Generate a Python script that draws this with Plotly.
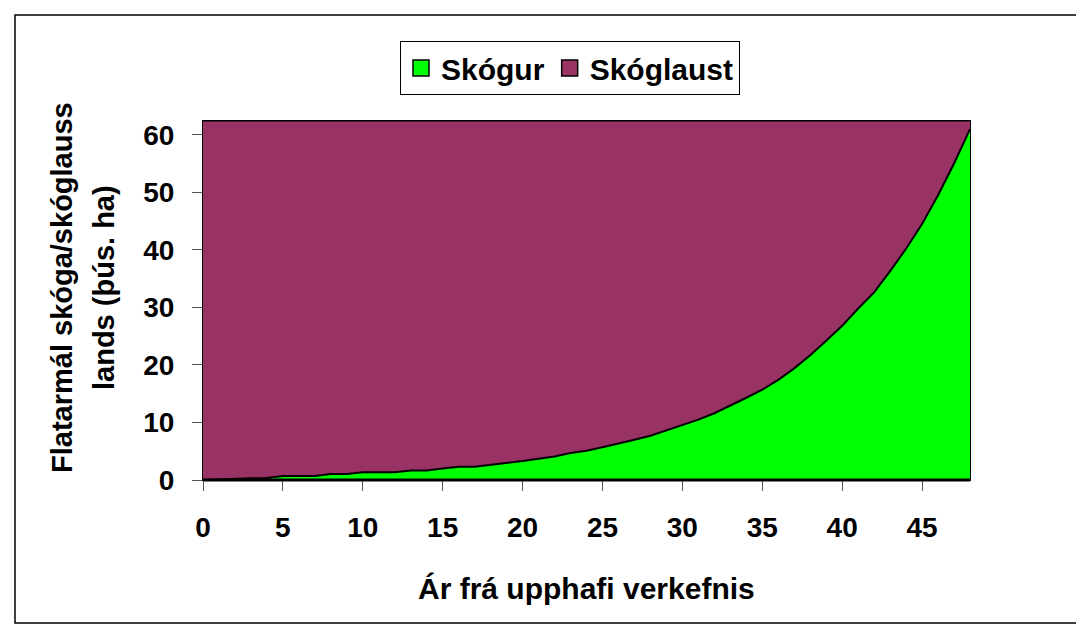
import plotly.graph_objects as go

years = list(range(0, 49))
skogur = [0, 0.1, 0.3, 0.3, 0.35, 0.7, 0.7, 0.7, 1.05, 1.05,
          1.35, 1.35, 1.35, 1.65, 1.65, 2.0, 2.3, 2.3, 2.6, 3.0,
          3.3, 3.7, 4.1, 4.7, 5.1, 5.7, 6.3, 7.0, 7.7, 8.6,
          9.5, 10.5, 11.6, 12.9, 14.3, 15.7, 17.4, 19.4, 21.7, 24.2,
          26.8, 29.8, 32.6, 36.3, 40.2, 44.5, 49.5, 55.0, 61.0]
total_land = 62.4
skoglaust = [round(total_land - v, 2) for v in skogur]

series_names = ["Skógur", "Skóglaust"]
series_colors = ["#00FF00", "#993366"]
x_ticks = [0, 5, 10, 15, 20, 25, 30, 35, 40, 45]
y_ticks = [0, 10, 20, 30, 40, 50, 60]

FONT = "Liberation Sans, Arial, sans-serif"

fig = go.Figure()
fig.add_trace(go.Scatter(
    x=years, y=skogur, name=series_names[0], stackgroup="one",
    mode="lines", line=dict(color="black", width=2),
    fillcolor=series_colors[0], showlegend=False))
fig.add_trace(go.Scatter(
    x=years, y=skoglaust, name=series_names[1], stackgroup="one",
    mode="lines", line=dict(color="black", width=1),
    fillcolor=series_colors[1], showlegend=False))
# legend entries (square swatches as in the original)
for name, col in zip(series_names, series_colors):
    fig.add_trace(go.Scatter(
        x=[None], y=[None], mode="markers", name=name,
        marker=dict(symbol="square", size=17, color=col,
                    line=dict(color="black", width=1.5))))

W, H = 1084, 624
L, R, T, B = 195, 962, 113, 472

def px(x):
    return (x - L) / (R - L)

def py(y):
    return (B - y) / (B - T)

TICKFONT = dict(family=FONT, size=28, weight="bold", color="black")
XTITLEFONT = dict(family=FONT, size=30, weight="bold", color="black")
YTITLEFONT = dict(family=FONT, size=29, weight="bold", color="black")

fig.update_layout(
    width=W, height=H,
    margin=dict(l=L, r=W - R, t=T, b=H - B),
    paper_bgcolor="white", plot_bgcolor="white",
    font=dict(family=FONT, size=22, color="black"),
    showlegend=True,
    legend=dict(
        orientation="h", x=px(562), y=py(33), xanchor="center", yanchor="top",
        bordercolor="black", borderwidth=1, bgcolor="white",
        font=dict(family=FONT, size=30, color="black", weight="bold"),
        itemwidth=30, traceorder="normal"),
    xaxis=dict(
        range=[0, 48], tickvals=x_ticks, ticks="outside", ticklen=10,
        tickcolor="#555555", tickwidth=1, showgrid=False, zeroline=False,
        showline=True, linecolor="black", linewidth=1, mirror=True,
        tickfont=TICKFONT, ticklabelstandoff=12),
    yaxis=dict(
        range=[0, total_land], tickvals=y_ticks, ticks="outside", ticklen=10,
        tickcolor="#555555", tickwidth=1, showgrid=False, zeroline=False,
        showline=True, linecolor="black", linewidth=1, mirror=True,
        tickfont=TICKFONT, ticklabelstandoff=12),
    annotations=[
        dict(text="Ár frá upphafi verkefnis", xref="paper", yref="paper",
             x=px(578), y=py(580), xanchor="center", yanchor="middle",
             showarrow=False, font=XTITLEFONT),
        dict(text="Flatarmál skóga/skóglauss", xref="paper",
             yref="paper", x=px(54), y=py(280), xanchor="center",
             yanchor="middle", textangle=-90, showarrow=False,
             font=YTITLEFONT),
        dict(text="lands (þús. ha)", xref="paper",
             yref="paper", x=px(96), y=py(280), xanchor="center",
             yanchor="middle", textangle=-90, showarrow=False,
             font=YTITLEFONT),
    ],
    shapes=[
        dict(type="rect", xref="paper", yref="paper",
             x0=px(7), x1=px(1076), y0=py(615), y1=py(7),
             line=dict(color="black", width=1.5), layer="below"),
        dict(type="line", xref="paper", yref="paper",
             x0=0, x1=1, y0=0, y1=0, line=dict(color="black", width=3)),
    ],
)

fig.write_html("out.html")
